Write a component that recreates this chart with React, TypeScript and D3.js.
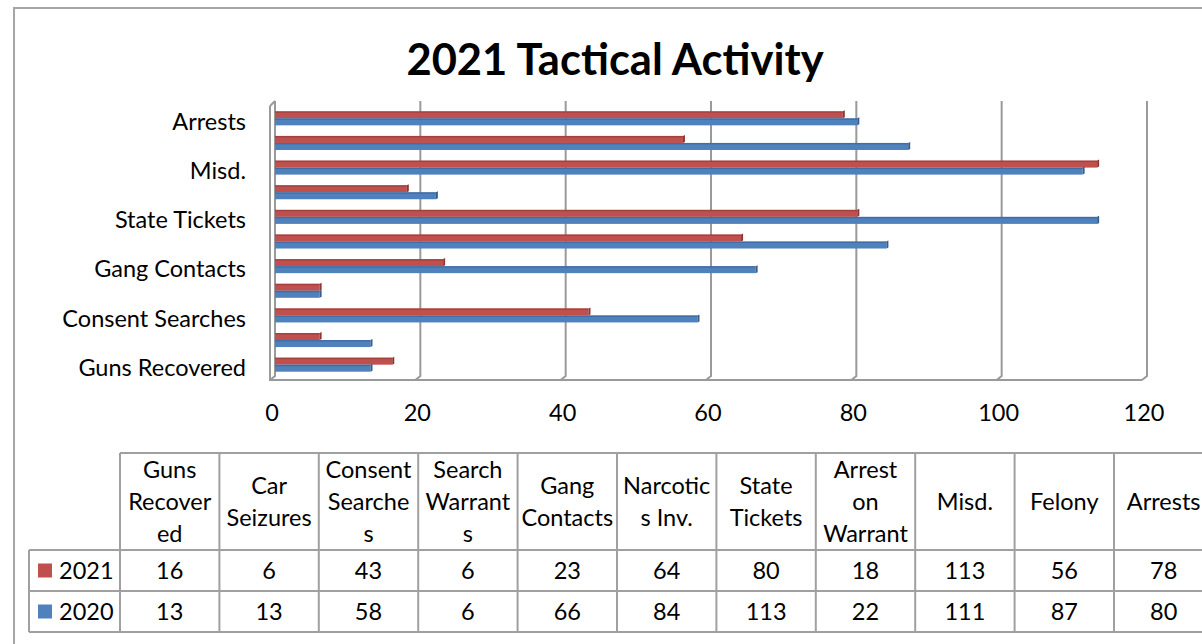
import React from 'react'
import * as d3 from 'd3'

// categories as they appear in the chart, top to bottom
const categories = [
  'Arrests', 'Felony', 'Misd.', 'Arrest on Warrant', 'State Tickets', 'Narcotics Inv.',
  'Gang Contacts', 'Search Warrants', 'Consent Searches', 'Car Seizures', 'Guns Recovered',
]
// wrapped header text of the data table (order of the table, left to right)
const tableHeaders = [
  ['Guns', 'Recover', 'ed'], ['Car', 'Seizures'], ['Consent', 'Searche', 's'], ['Search', 'Warrant', 's'],
  ['Gang', 'Contacts'], ['Narcotic', 's Inv.'], ['State', 'Tickets'], ['Arrest', 'on', 'Warrant'],
  ['Misd.'], ['Felony'], ['Arrests'],
]
const tableOrder = [
  'Guns Recovered', 'Car Seizures', 'Consent Searches', 'Search Warrants', 'Gang Contacts',
  'Narcotics Inv.', 'State Tickets', 'Arrest on Warrant', 'Misd.', 'Felony', 'Arrests',
]
const values2021 = [16, 6, 43, 6, 23, 64, 80, 18, 113, 56, 78]
const values2020 = [13, 13, 58, 6, 66, 84, 113, 22, 111, 87, 80]
const seriesNames = ['2021', '2020']
const xTicks = [0, 20, 40, 60, 80, 100, 120]

const colors: Record<string, string> = { '2021': '#C0504D', '2020': '#4F81BD' }
const darker: Record<string, string> = { '2021': '#8E3431', '2020': '#345C8C' }
const FONT = 'Lato, "Open Sans", sans-serif'

export default function App() {
  const W = 1202, H = 644
  const x = d3.scaleLinear().domain([0, 120]).range([276, 1148])
  const y = d3.scaleBand<string>().domain(categories).range([106, 377]).paddingInner(0.43).paddingOuter(0.215)
  const ySub = d3.scaleBand<string>().domain(seriesNames).range([0, y.bandwidth()])
  const col = d3.scaleBand<string>().domain(tableOrder).range([120, 120 + 11 * 99.4])

  const value = (s: string, c: string) => {
    const i = tableOrder.indexOf(c)
    return s === '2021' ? values2021[i] : values2020[i]
  }

  const top = 101, floor = 378, depth = 5
  const gridColor = '#9a9a9a'
  const rowTop = 453, headBottom = 550, row1Bottom = 591, row2Bottom = 632
  const fs = 23.5

  return (
    <div style={{ position: 'absolute', left: 0, top: 0 }}>
      <svg width={W} height={H} style={{ display: 'block', background: '#fff' }}>
        <rect x={14} y={8} width={1300} height={700} fill="#fff" stroke="#a6a6a6" strokeWidth={2} />
        <text x={615} y={75} textAnchor="middle" fontFamily={FONT} fontWeight="bold" fontSize={43.5}>
          2021 Tactical Activity
        </text>

        {/* back walls and gridlines */}
        <g stroke={gridColor} strokeWidth={2} fill="none">
          {xTicks.map(t => (
            <path key={t} d={`M${x(t) - 1},${top} V${floor - 2} L${x(t) - 1 - depth},${floor + 2}`} />
          ))}
          <path d={`M${x(0) - 1 - depth},${top + depth} L${x(0) - 1},${top}`} />
          <path d={`M${x(0) - 1 - depth},${top + depth} V${floor + 2} H${x(120) - 1 - depth}`} />
        </g>

        {/* bars */}
        {categories.map(c => (
          <g key={c}>
            {seriesNames.map(s => {
              const y0 = (y(c) ?? 0) + (ySub(s) ?? 0)
              const h = ySub.bandwidth()
              const x0 = x(0) - 1
              const x1 = x(value(s, c))
              return (
                <g key={s}>
                  <rect x={x0} y={y0} width={x1 - x0} height={h} fill={colors[s]} />
                  <rect x={x0} y={y0} width={x1 - x0} height={1.5} fill={darker[s]} opacity={0.55} />
                  <path d={`M${x1},${y0} L${x1 + 2},${y0 - 1} V${y0 + h - 1} L${x1},${y0 + h} Z`} fill={darker[s]} />
                </g>
              )
            })}
          </g>
        ))}

        {/* category labels */}
        {categories.filter((_, i) => i % 2 === 0).map(c => (
          <text key={c} x={246} y={(y(c) ?? 0) + y.bandwidth() / 2 + 3} dy="0.35em" textAnchor="end"
            fontFamily={FONT} fontSize={fs}>{c}</text>
        ))}

        {/* value axis labels */}
        {xTicks.map(t => (
          <text key={t} x={x(t) - 4} y={421} textAnchor="middle" fontFamily={FONT} fontSize={fs}>{t}</text>
        ))}

        {/* data table */}
        <g stroke="#a0a0a0" strokeWidth={2} fill="none">
          <path d={`M120,${rowTop} H1300`} />
          <path d={`M29,${headBottom} H1300`} />
          <path d={`M29,${row1Bottom} H1300`} />
          <path d={`M29,${row2Bottom} H1300`} />
          <path d={`M29,${headBottom} V${row2Bottom}`} />
          {tableOrder.map(c => (
            <path key={c} d={`M${col(c)},${rowTop} V${row2Bottom}`} />
          ))}
          <path d={`M${(col('Arrests') ?? 0) + col.bandwidth()},${rowTop} V${row2Bottom}`} />
        </g>
        {tableOrder.map((c, i) => {
          const cx = (col(c) ?? 0) + col.bandwidth() / 2
          const lines = tableHeaders[i]
          const lh = 32
          const cy = (rowTop + headBottom) / 2 - ((lines.length - 1) * lh) / 2
          return (
            <g key={c} fontFamily={FONT} fontSize={fs} textAnchor="middle">
              {lines.map((l, j) => (
                <text key={j} x={cx} y={cy + j * lh} dy="0.35em">{l}</text>
              ))}
              <text x={cx} y={(headBottom + row1Bottom) / 2} dy="0.35em">{values2021[i]}</text>
              <text x={cx} y={(row1Bottom + row2Bottom) / 2} dy="0.35em">{values2020[i]}</text>
            </g>
          )
        })}
        {seriesNames.map((s, i) => {
          const cy = i === 0 ? (headBottom + row1Bottom) / 2 : (row1Bottom + row2Bottom) / 2
          return (
            <g key={s}>
              <rect x={38} y={cy - 7} width={14} height={14} fill={colors[s]} />
              <text x={59} y={cy} dy="0.35em" fontFamily={FONT} fontSize={fs}>{s}</text>
            </g>
          )
        })}
      </svg>
    </div>
  )
}
